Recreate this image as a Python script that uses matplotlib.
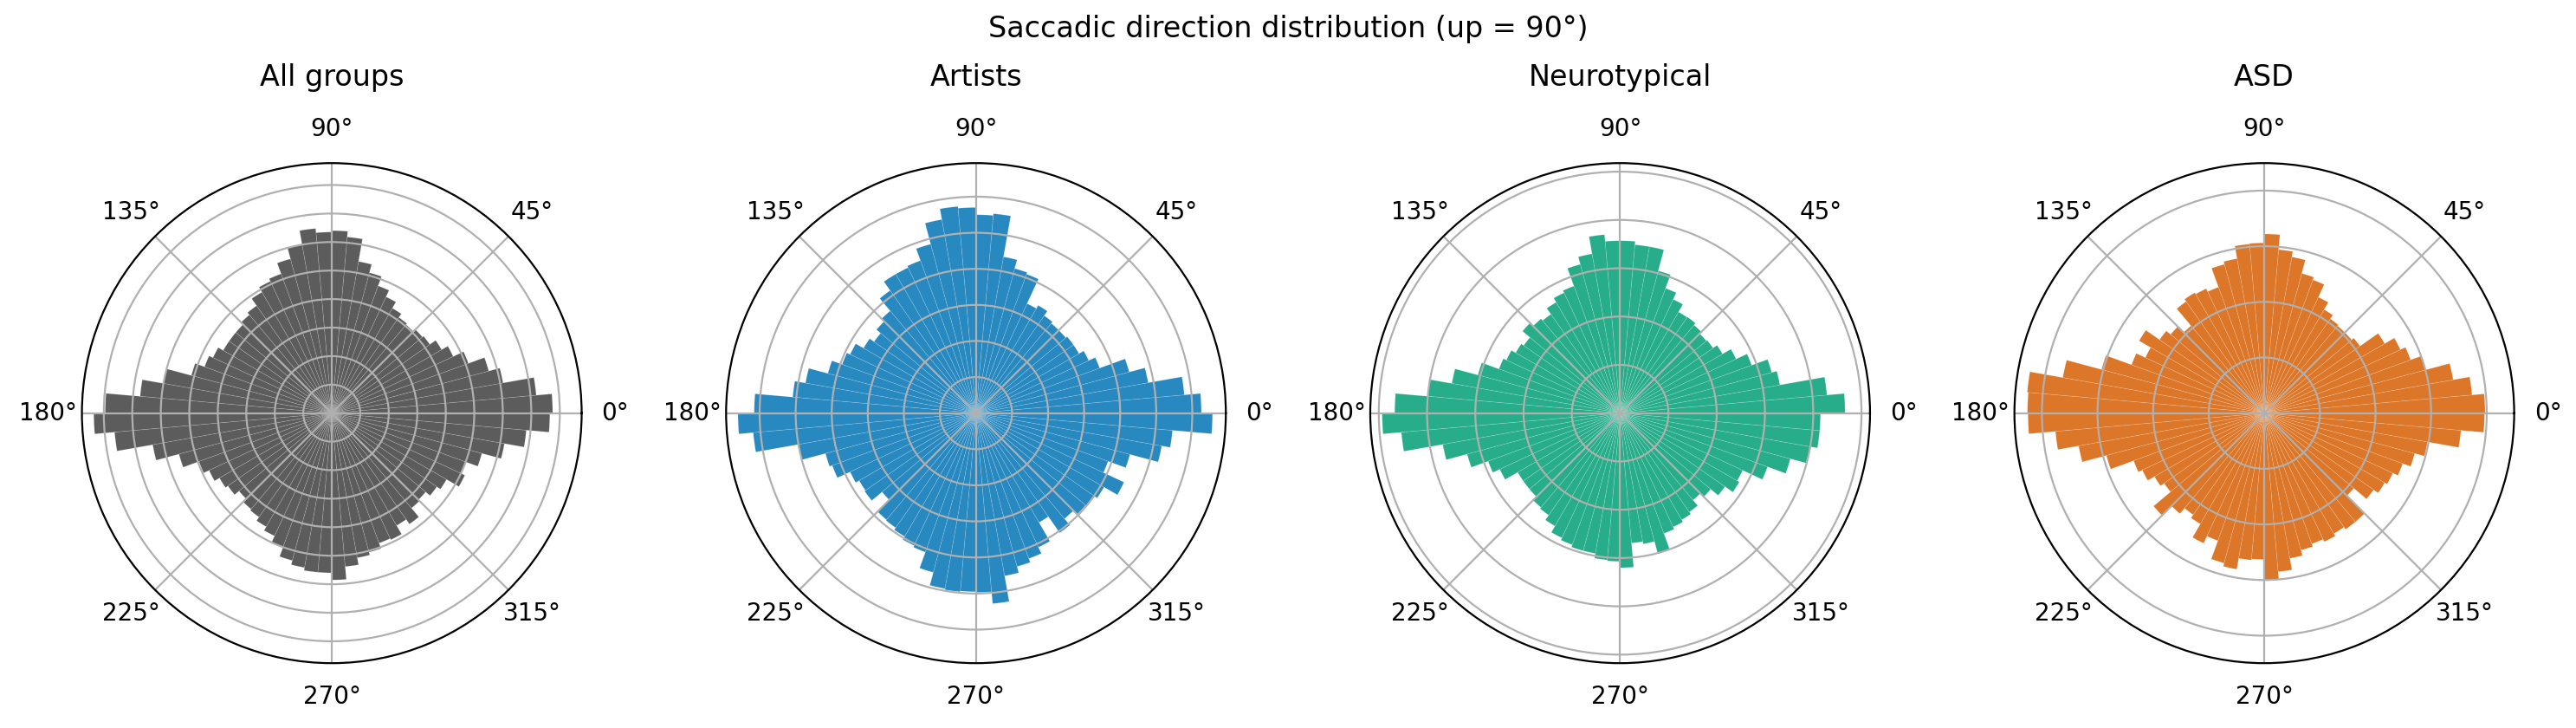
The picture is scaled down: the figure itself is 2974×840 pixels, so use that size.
import numpy as np
import matplotlib
matplotlib.use("Agg")
import matplotlib.pyplot as plt

# share of saccades per 5 degree bin (bin 0 = 0-5 deg, counter-clockwise),
# read off the picture in units of one radial grid ring
all_groups = [
    7.75, 7.2, 6.1, 5.7, 5.1, 4.7, 4.45, 4.2, 4.15, 4.05, 4.1, 4.25, 4.5, 4.75, 5.1, 5.4, 6.2, 6.4,
    6.35, 6.5, 6.0, 5.6, 5.2, 5.1, 4.9, 4.6, 4.5, 4.4, 4.4, 4.4, 4.6, 4.75, 5.1, 6.0, 6.75, 7.95,
    8.35, 7.65, 6.38, 5.55, 4.96, 4.75, 4.55, 4.45, 4.25, 4.4, 4.45, 4.6, 4.75, 5.0, 5.35, 5.5, 5.6, 5.6,
    5.85, 5.4, 5.15, 5.05, 4.85, 4.9, 4.55, 4.75, 4.35, 4.3, 4.5, 4.65, 5.15, 5.0, 5.45, 6.15, 6.85, 7.65,
]
artists = [
    6.25, 5.8, 4.85, 4.4, 3.65, 3.45, 3.3, 3.3, 3.25, 3.25, 3.3, 3.45, 3.35, 4.1, 4.15, 4.4, 5.55, 5.5,
    5.7, 5.75, 5.45, 4.85, 4.5, 4.45, 4.45, 4.15, 3.7, 3.6, 3.45, 3.6, 3.85, 3.95, 4.25, 4.8, 5.1, 6.15,
    6.6, 6.2, 5.0, 4.32, 4.24, 3.85, 3.74, 3.77, 3.4, 3.86, 3.88, 3.95, 4.05, 4.1, 4.57, 4.94, 4.97, 4.95,
    4.97, 5.3, 4.58, 4.4, 4.29, 4.1, 3.5, 4.05, 3.82, 3.97, 4.0, 4.1, 4.53, 3.9, 4.42, 5.23, 5.47, 6.56,
]
neurotypical = [
    4.66, 4.3, 3.36, 3.25, 2.9, 2.65, 2.45, 2.35, 2.33, 2.38, 2.43, 2.42, 2.6, 2.75, 3.05, 3.5, 3.5, 3.57,
    3.57, 3.71, 3.35, 3.19, 2.8, 2.75, 2.65, 2.5, 2.55, 2.64, 2.44, 2.5, 2.6, 2.67, 3.05, 3.54, 4.0, 4.67,
    4.93, 4.55, 3.73, 3.28, 2.91, 2.75, 2.45, 2.45, 2.45, 2.55, 2.58, 2.7, 2.85, 2.9, 2.95, 2.95, 3.05, 3.07,
    3.2, 2.7, 2.75, 3.0, 2.65, 2.6, 2.55, 2.5, 2.35, 2.45, 2.65, 2.85, 2.8, 3.25, 3.65, 4.0, 4.15, 4.15,
]
asd = [
    3.97, 3.75, 3.45, 3.0, 2.8, 2.7, 2.5, 2.1, 2.05, 2.05, 2.07, 2.15, 2.3, 2.55, 2.6, 2.85, 2.95, 3.22,
    3.06, 3.05, 2.82, 2.77, 2.41, 2.47, 2.5, 2.45, 2.05, 2.2, 2.3, 2.6, 2.36, 2.54, 3.03, 3.68, 4.28, 4.26,
    4.25, 3.77, 3.39, 2.94, 2.5, 2.42, 2.28, 2.2, 2.6, 2.36, 2.23, 2.3, 2.58, 2.44, 2.79, 2.85, 2.65, 2.63,
    3.0, 2.86, 2.65, 2.55, 2.5, 2.55, 2.5, 2.55, 2.55, 2.1, 2.4, 2.5, 2.55, 2.65, 2.8, 2.98, 3.55, 3.96,
]

titles = ["All groups", "Artists", "Neurotypical", "ASD"]
colors = ["#5c5c5c", "#2888c0", "#27ad8a", "#dc7628"]
series = [all_groups, artists, neurotypical, asd]

edges = np.deg2rad(np.arange(0, 360, 5))
width = np.deg2rad(5)

fig, axes = plt.subplots(1, 4, figsize=(14.87, 4.2), dpi=200,
                         subplot_kw={"projection": "polar"})
fig.subplots_adjust(left=0.0318, right=0.976, bottom=0.089, top=0.776, wspace=0.289)

for ax, vals, title, col in zip(axes, series, titles, colors):
    vals = np.array(vals)
    ax.bar(edges, vals, width=width, align="edge", color=col,
           edgecolor=(1, 1, 1, 0.2), linewidth=0.25)
    ax.set_yticks(np.arange(1, int(vals.max() * 1.05) + 1))
    ax.set_yticklabels([])
    ax.set_title(title, fontsize=12, pad=13)

fig.suptitle("Saccadic direction distribution (up = 90°)", fontsize=12)
fig.savefig("out.png", dpi=200)
